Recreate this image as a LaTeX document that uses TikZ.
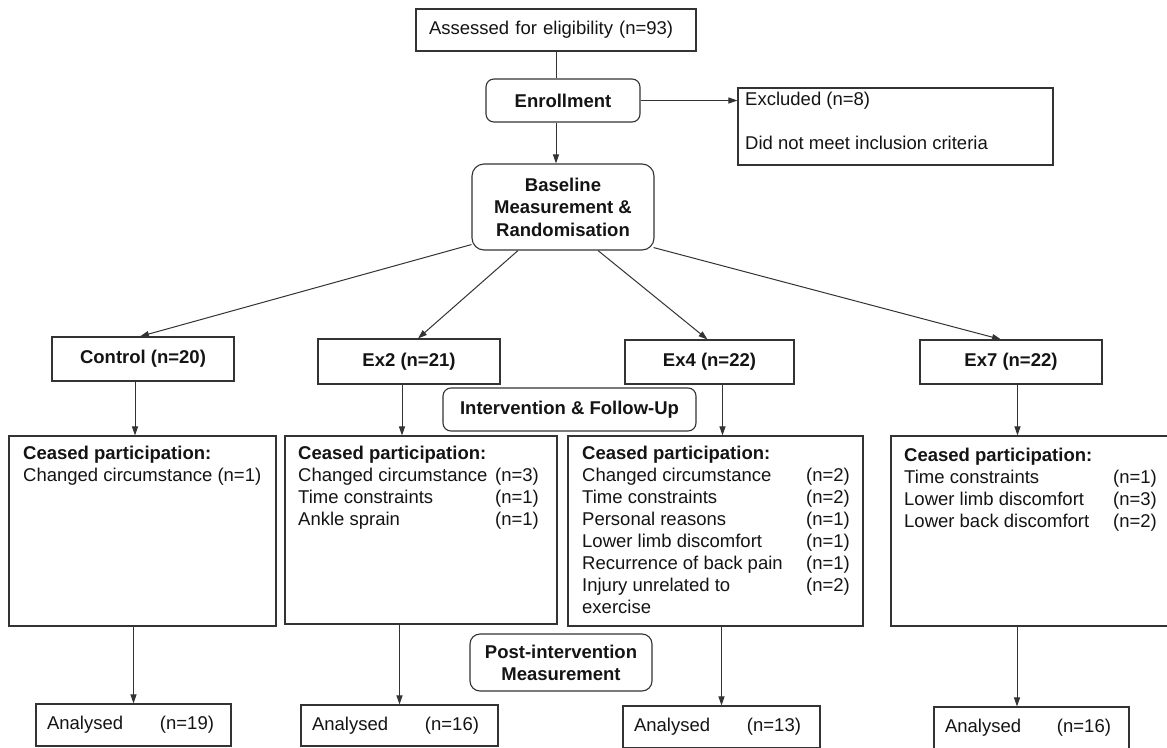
\documentclass[tikz,border=0pt]{standalone}
\usepackage{fontspec}
\setmainfont{Liberation Sans}
\usetikzlibrary{arrows.meta,calc}
\newcommand{\myfs}{\fontsize{18.5}{22}\selectfont}
\begin{document}
\begin{tikzpicture}[x=1pt,y=-1pt,
  every node/.style={font=\myfs, text=black!92},
  bf/.style={font=\myfs\bfseries},
  box/.style={draw=black!80, line width=1.1pt, inner sep=0pt},
  rbox/.style={box, rounded corners=8pt},
  txt/.style={inner sep=0pt, anchor=base west},
  ttab/.style={inner sep=0pt, anchor=north west},
  arr/.style={draw=black!80, line width=1pt, -{Triangle[length=9pt,width=6pt]}},
  ln/.style={draw=black!80, line width=1pt}]
\useasboundingbox[fill=white] (0,0) rectangle (1167,747);

% top part
\node[box, minimum width=280pt, minimum height=42pt, text width=254pt, inner xsep=13pt, align=left] (ass) at (556,30) {Assessed for eligibility (n=93)};
\node[rbox, bf, minimum width=154pt, minimum height=43pt] (enr) at (563,100.5) {Enrollment};
\node[box, minimum width=315pt, minimum height=77pt] (exc) at (895.5,126.5) {};
\node[txt] (exc1) at (745,105.6) {Excluded (n=8)};
\node[txt] (exc2) at (745,149) {Did not meet inclusion criteria};
\node[rbox, rounded corners=12pt, minimum width=182pt, minimum height=86pt, align=center, font=\fontsize{18.5}{22.5}\selectfont\bfseries] (base) at (563,207) {Baseline\\Measurement \&\\Randomisation};

% groups
\node[box, bf, minimum width=182pt, minimum height=44pt] (ctrl) at (143,359) {Control (n=20)};
\node[box, bf, minimum width=182pt, minimum height=45pt] (ex2) at (409,361.5) {Ex2 (n=21)};
\node[box, bf, minimum width=169pt, minimum height=44pt] (ex4) at (709.5,362) {Ex4 (n=22)};
\node[box, bf, minimum width=182pt, minimum height=44pt] (ex7) at (1011,362) {Ex7 (n=22)};
\node[rbox, bf, minimum width=253pt, minimum height=43pt] (int) at (569.5,409.5) {Intervention \& Follow-Up};

% ceased participation
\node[box, minimum width=267pt, minimum height=190pt] (c1) at (142.5,531) {};
\node[box, minimum width=272pt, minimum height=188pt] (c2) at (421,530) {};
\node[box, minimum width=295pt, minimum height=190pt] (c4) at (715.5,531) {};
\node[box, minimum width=281pt, minimum height=190pt] (c7) at (1031.5,531) {};

\node[ttab] (c1t) at (23,444) {\begin{tabular}{@{}l@{}}\bfseries Ceased participation:\\ Changed circumstance (n=1)\end{tabular}};
\node[ttab] (c2t) at (298,444) {\begin{tabular}{@{}p{197pt}@{}l@{}}\multicolumn{2}{@{}l@{}}{\bfseries Ceased participation:}\\
Changed circumstance & (n=3)\\
Time constraints & (n=1)\\
Ankle sprain & (n=1)\end{tabular}};
\node[ttab] (c4t) at (582,444) {\begin{tabular}{@{}p{224pt}@{}l@{}}\multicolumn{2}{@{}l@{}}{\bfseries Ceased participation:}\\
Changed circumstance & (n=2)\\
Time constraints & (n=2)\\
Personal reasons & (n=1)\\
Lower limb discomfort & (n=1)\\
Recurrence of back pain & (n=1)\\
Injury unrelated to\newline exercise & (n=2)\end{tabular}};
\node[ttab] (c7t) at (904,446) {\begin{tabular}{@{}p{209pt}@{}l@{}}\multicolumn{2}{@{}l@{}}{\bfseries Ceased participation:}\\
Time constraints & (n=1)\\
Lower limb discomfort & (n=3)\\
Lower back discomfort & (n=2)\end{tabular}};

% post intervention
\node[rbox, rounded corners=10pt, bf, align=center, minimum width=182pt, minimum height=57pt] (post) at (561,662.5) {Post-intervention\\Measurement};

% analysed
\node[box, minimum width=195pt, minimum height=42pt, text width=173pt, inner xsep=11pt, align=left] (a1) at (133.5,725) {\makebox[113pt][l]{Analysed}(n=19)};
\node[box, minimum width=197pt, minimum height=41pt, text width=175pt, inner xsep=11pt, align=left] (a2) at (399.5,725.5) {\makebox[113pt][l]{Analysed}(n=16)};
\node[box, minimum width=197pt, minimum height=42pt, text width=175pt, inner xsep=11pt, align=left] (a4) at (721.5,727) {\makebox[113pt][l]{Analysed}(n=13)};
\node[box, minimum width=195pt, minimum height=42pt, text width=173pt, inner xsep=11pt, align=left] (a7) at (1031.5,728) {\makebox[112pt][l]{Analysed}(n=16)};

% connectors
\draw[ln] (ass.south) -- (ass.south |- enr.north);
\draw[arr] (ass.south |- enr.south) -- (ass.south |- base.north);
\draw[arr] (enr.east) -- (enr.east -| exc.west);
\draw[arr] ($(base.south west)+(0,-6)$) -- ($(ctrl.north)+(-3,0)$);
\draw[arr] ($(base.south)+(-45,0)$) -- ($(ex2.north)+(9,0)$);
\draw[arr] ($(base.south)+(35,0)$) -- ($(ex4.north)+(-2,0)$);
\draw[arr] ($(base.south east)+(-1,-3)$) -- ($(ex7.north)+(-10,0)$);

\draw[arr] ([xshift=-8pt]ctrl.south) -- ([xshift=-8pt]ctrl.south |- c1.north);
\draw[arr] ([xshift=-7pt]ex2.south) -- ([xshift=-7pt]ex2.south |- c2.north);
\draw[arr] ([xshift=13pt]ex4.south) -- ([xshift=13pt]ex4.south |- c4.north);
\draw[arr] ([xshift=6.5pt]ex7.south) -- ([xshift=6.5pt]ex7.south |- c7.north);

\draw[arr] (a1.north |- c1.south) -- (a1.north);
\draw[arr] (a2.north |- c2.south) -- (a2.north);
\draw[arr] (a4.north |- c4.south) -- (a4.north);
\draw[arr] ([xshift=-14.5pt]a7.north |- c7.south) -- ([xshift=-14.5pt]a7.north);
\end{tikzpicture}
\end{document}
